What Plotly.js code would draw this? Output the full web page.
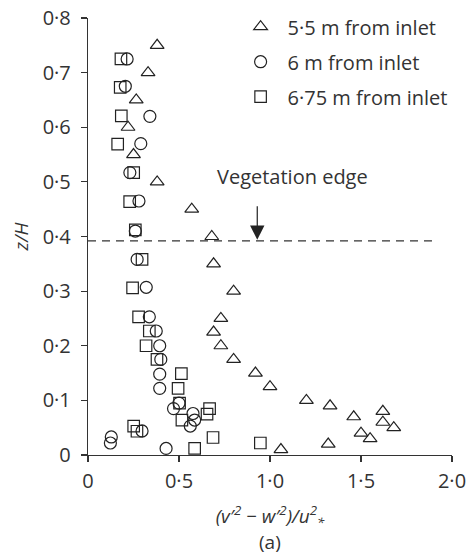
<!DOCTYPE html>
<html>
<head>
<meta charset="utf-8">
<script src="https://cdn.plot.ly/plotly-3.0.1.min.js"></script>
<style>html,body{margin:0;padding:0;background:#fff;}#chart{width:470px;height:555px;}</style>
</head>
<body>
<div id="chart"></div>
<script>
// Series: 5.5 m from inlet (triangles)
const triX = [0.38,0.33,0.265,0.22,0.25,0.38,0.57,0.68,0.69,0.80,0.73,0.69,0.73,0.80,0.92,1.00,1.20,1.33,1.46,1.62,1.62,1.68,1.50,1.55,1.32,1.06];
const triY = [0.75,0.70,0.65,0.60,0.55,0.50,0.45,0.40,0.35,0.30,0.25,0.225,0.20,0.175,0.15,0.125,0.10,0.09,0.07,0.08,0.06,0.05,0.04,0.03,0.02,0.01];
// Series: 6 m from inlet (circles)
const circX = [0.215,0.205,0.34,0.29,0.23,0.28,0.26,0.27,0.32,0.337,0.375,0.394,0.40,0.394,0.394,0.47,0.50,0.577,0.586,0.562,0.297,0.128,0.123,0.429];
const circY = [0.725,0.675,0.62,0.57,0.517,0.465,0.41,0.358,0.307,0.253,0.227,0.20,0.175,0.148,0.122,0.085,0.095,0.076,0.064,0.053,0.044,0.033,0.022,0.012];
// Series: 6.75 m from inlet (squares)
const sqX = [0.181,0.177,0.183,0.163,0.251,0.229,0.26,0.297,0.245,0.278,0.337,0.319,0.379,0.513,0.495,0.503,0.668,0.654,0.516,0.251,0.269,0.687,0.947,0.586];
const sqY = [0.725,0.673,0.621,0.569,0.517,0.464,0.412,0.358,0.306,0.253,0.227,0.20,0.175,0.149,0.122,0.095,0.085,0.075,0.064,0.053,0.0435,0.032,0.022,0.012];
// Vegetation edge line and arrow
const edgeX = [0, 1.89];
const edgeY = [0.392, 0.392];
const arrowX = 0.93, arrowTop = 0.458, arrowTip = 0.394;
// Tick labels
const xTickVals = [0, 0.5, 1.0, 1.5, 2.0];
const xTickText = ['0', '0·5', '1·0', '1·5', '2·0'];
const yTickVals = [0, 0.1, 0.2, 0.3, 0.4, 0.5, 0.6, 0.7, 0.8];
const yTickText = ['0', '0·1', '0·2', '0·3', '0·4', '0·5', '0·6', '0·7', '0·8'];
const names = ['5·5 m from inlet', '6 m from inlet', '6·75 m from inlet'];

const ink = '#222';
const txt = '#333';
const FONT = 'Open Sans, DejaVu Sans, sans-serif';

const mk = (sym, size) => ({symbol: sym, size: size, color: ink, line: {color: ink, width: 1.2}});

const traces = [
  {x: edgeX, y: edgeY, mode: 'lines', line: {color: '#333', width: 1.3, dash: '8px,6px'}, showlegend: false, hoverinfo: 'skip', cliponaxis: false},
  {x: triX, y: triY, mode: 'markers', name: names[0], marker: mk('triangle-up-open', 12), legendgroup: 'a', cliponaxis: false},
  {x: circX, y: circY, mode: 'markers', name: names[1], marker: mk('circle-open', 12), legendgroup: 'b', cliponaxis: false},
  {x: sqX, y: sqY, mode: 'markers', name: names[2], marker: mk('square-open', 11.5), legendgroup: 'c', cliponaxis: false}
];

const axisCommon = {
  showgrid: false, zeroline: false, showline: true, linecolor: '#333', linewidth: 1.2,
  ticks: 'outside', ticklen: 6, tickwidth: 1.2, tickcolor: '#333',
  tickfont: {family: FONT, size: 20, color: txt}, fixedrange: true
};

const layout = {
  width: 470, height: 555,
  margin: {l: 88, r: 18, t: 18, b: 100, autoexpand: false},
  paper_bgcolor: '#fff', plot_bgcolor: '#fff',
  font: {family: FONT, color: txt},
  showlegend: true,
  legend: {x: 0.40, y: 0.987, xref: 'paper', yref: 'container', xanchor: 'left', yanchor: 'top',
           font: {family: FONT, size: 20, color: txt},
           tracegroupgap: 6, itemwidth: 44, bgcolor: 'rgba(0,0,0,0)'},
  xaxis: Object.assign({}, axisCommon, {
    range: [0, 2], tickvals: xTickVals, ticktext: xTickText, ticklabelstandoff: 2,
    title: {text: '<i>(v′<sup>2</sup> − w′<sup>2</sup>)/u<sup>2</sup><sub>*</sub></i>', font: {family: FONT, size: 19, color: txt}, standoff: 16}
  }),
  yaxis: Object.assign({}, axisCommon, {
    range: [0, 0.8], tickvals: yTickVals, ticktext: yTickText, ticklabelstandoff: 6,
    title: {text: '<i>z/H</i>', font: {family: FONT, size: 19, color: txt}, standoff: 9}
  }),
  annotations: [
    {x: arrowX, y: arrowTip, ax: arrowX, ay: arrowTop, xref: 'x', yref: 'y', axref: 'x', ayref: 'y',
     showarrow: true, arrowhead: 2, arrowsize: 2.4, arrowwidth: 1.2, arrowcolor: '#222', text: ''},
    {x: 1.125, y: 0.51, xref: 'x', yref: 'y', text: 'Vegetation edge', showarrow: false,
     font: {family: FONT, size: 20, color: txt}},
    {x: 0.5, y: -0.198, xref: 'paper', yref: 'paper', yanchor: 'middle', text: '(a)', showarrow: false,
     font: {family: FONT, size: 19, color: txt}}
  ]
};

Plotly.newPlot('chart', traces, layout, {displayModeBar: false, staticPlot: true});
</script>
</body>
</html>
